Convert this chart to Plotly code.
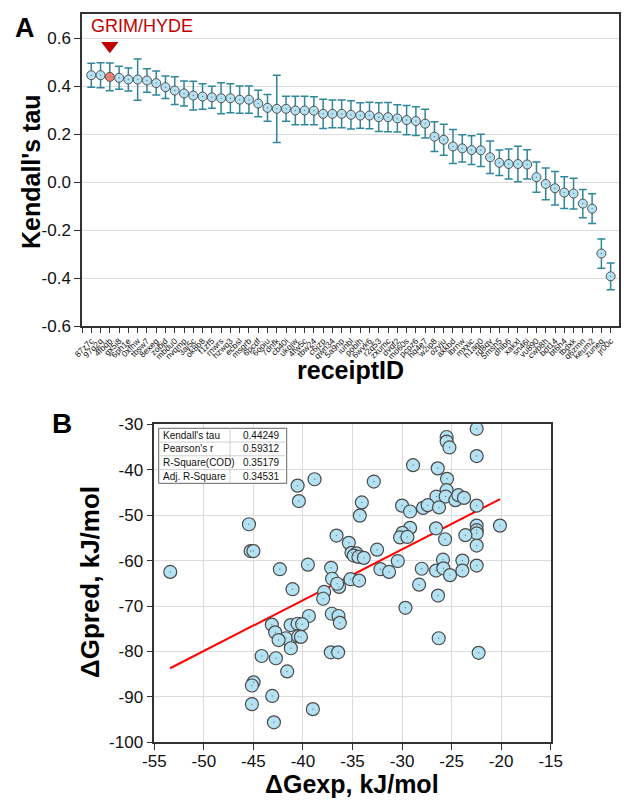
import plotly.graph_objects as go

# ---------------- Panel A data ----------------
receipt_ids = ["87z7c", "97q2q", "4fbqb", "gx5i8", "6ph1e", "0xfhw", "tbsw7", "8exeg", "zobjd", "mbdu0",
               "nvqmp", "3aj5c", "ok8b8", "f1zf5", "rnwrs", "hzwq3", "ecbsl", "msgrb", "6pcdf", "6ooiu",
               "7dnfk", "cb40i", "ukojw", "4fw5c", "tbw24", "c6jzp", "qwn34", "5a9np", "iunbl", "poblh",
               "6wvk6", "r2q53", "zxumc", "dvqf2", "mo60s", "pcpz6", "hq4e7", "w2ip8", "ozyju", "axkbd",
               "lbrnw", "mxxic", "h1ag0", "rq8qv", "5msh5", "dhlb6", "xakxl", "sn46i", "vu890", "cwb8h",
               "bdt14", "bt6h4", "tbdxk", "q6zmn", "keum2", "zuneq", "jr00c"]
kendall_tau = [0.445, 0.445, 0.438, 0.434, 0.427, 0.427, 0.423, 0.412, 0.395, 0.381,
               0.369, 0.360, 0.356, 0.353, 0.349, 0.349, 0.343, 0.343, 0.327, 0.309,
               0.305, 0.305, 0.298, 0.298, 0.297, 0.284, 0.284, 0.284, 0.280, 0.277,
               0.277, 0.270, 0.270, 0.265, 0.258, 0.254, 0.243, 0.189, 0.176, 0.148,
               0.140, 0.133, 0.132, 0.103, 0.080, 0.075, 0.075, 0.073, 0.020, -0.008,
               -0.026, -0.044, -0.048, -0.090, -0.111, -0.298, -0.393]
tau_err = [0.050, 0.052, 0.058, 0.048, 0.048, 0.086, 0.049, 0.050, 0.047, 0.058,
           0.052, 0.060, 0.053, 0.046, 0.065, 0.060, 0.057, 0.057, 0.055, 0.056,
           0.140, 0.052, 0.059, 0.059, 0.058, 0.061, 0.058, 0.058, 0.059, 0.053,
           0.055, 0.060, 0.061, 0.057, 0.061, 0.060, 0.060, 0.062, 0.065, 0.071,
           0.057, 0.060, 0.067, 0.068, 0.053, 0.062, 0.074, 0.061, 0.063, 0.066,
           0.070, 0.066, 0.064, 0.059, 0.062, 0.061, 0.056]
highlight_index = 3          # 1-based position of GRIM/HYDE
highlight_label = "GRIM/HYDE"
highlight_marker_y = 0.568
a_ytickvals = [-0.6, -0.4, -0.2, 0.0, 0.2, 0.4, 0.6]
a_yticktext = ["-0.6", "-0.4", "-0.2", "0.0", "0.2", "0.4", "0.6"]

# ---------------- Panel B data ----------------
dg_exp = [-53.39, -45.45, -45.28, -45.00, -42.33, -41.05, -40.54, -40.41, -39.50, -38.83,
          -37.86, -37.96, -37.16, -37.06, -36.35, -36.55, -39.40, -43.14, -41.25, -40.54,
          -40.08, -42.80, -41.73, -42.46, -40.48, -40.20, -44.17, -42.73, -41.22, -41.59,
          -44.98, -45.15, -43.10, -45.15, -39.00, -42.93, -37.09, -36.41, -36.28, -37.19,
          -36.45, -29.66, -26.37, -26.30, -22.27, -22.47, -25.50, -25.50, -25.22, -22.47,
          -28.89, -26.40, -25.46, -32.85, -25.50, -26.53, -25.60, -24.62, -24.32, -23.75,
          -34.06, -30.00, -29.19, -27.88, -27.41, -26.27, -22.47, -34.26, -20.12, -22.47,
          -22.47, -22.47, -26.57, -29.19, -29.96, -30.20, -29.46, -25.66, -23.61, -36.61,
          -22.47, -35.37, -32.52, -35.10, -34.60, -34.87, -34.40, -33.86, -35.20, -34.33,
          -32.18, -31.31, -30.43, -28.01, -28.28, -26.57, -25.87, -25.83, -25.16, -23.91,
          -23.91, -22.47]
dg_pred = [-62.5, -52.0, -57.9, -57.9, -61.9, -66.3, -43.5, -46.9, -60.9, -42.1,
           -66.9, -68.4, -61.6, -64.0, -65.8, -65.1, -72.2, -74.1, -74.2, -73.9,
           -74.0, -75.8, -77.1, -77.5, -76.7, -76.8, -81.0, -81.5, -79.3, -84.4,
           -86.8, -87.5, -89.8, -91.6, -92.7, -95.6, -71.7, -72.2, -73.7, -80.2,
           -80.2, -70.4, -67.7, -77.1, -80.3, -31.0, -32.8, -33.8, -35.1, -37.0,
           -39.0, -39.7, -42.0, -42.6, -44.5, -45.9, -45.9, -46.7, -45.6, -46.2,
           -47.2, -47.9, -49.2, -48.4, -47.8, -48.3, -47.9, -50.1, -52.3, -52.3,
           -53.3, -54.0, -52.9, -52.8, -53.9, -54.9, -54.8, -55.3, -54.4, -54.5,
           -56.7, -56.1, -57.6, -58.3, -58.4, -58.9, -59.2, -59.4, -64.1, -64.4,
           -61.9, -62.5, -60.1, -61.8, -65.3, -62.2, -59.8, -61.7, -63.2, -60.0,
           -62.2, -61.1]
fit_x = [-53.4, -20.1]
fit_y = [-83.7, -46.45]
stat_names = ["Kendall's tau", "Pearson's r", "R-Square(COD)", "Adj. R-Square"]
stat_values = ["0.44249", "0.59312", "0.35179", "0.34531"]
b_xtickvals = [-55, -50, -45, -40, -35, -30, -25, -20, -15]
b_xticktext = ["-55", "-50", "-45", "-40", "-35", "-30", "-25", "-20", "-15"]
b_ytickvals = [-100, -90, -80, -70, -60, -50, -40, -30]
b_yticktext = ["-100", "-90", "-80", "-70", "-60", "-50", "-40", "-30"]

# ---------------- helpers ----------------
W, H = 624, 800
FONT = "Arial, Liberation Sans, sans-serif"
def px(x):
    return x / W
def py(y):
    return 1 - y / H

x_pos = list(range(1, len(kendall_tau) + 1))
fill_colors = ["#f2806e" if i == highlight_index else "#b5e2f3" for i in x_pos]

fig = go.Figure()

# Panel A
fig.add_trace(go.Scatter(
    x=x_pos, y=kendall_tau, mode="markers", xaxis="x", yaxis="y",
    marker=dict(size=9, color=fill_colors, line=dict(color="#505050", width=1)),
    error_y=dict(type="data", array=tau_err, color="#2f879a", thickness=1.5, width=4),
    showlegend=False, hoverinfo="x+y"))
fig.add_trace(go.Scatter(
    x=x_pos, y=kendall_tau, mode="markers", xaxis="x", yaxis="y",
    marker=dict(size=1.5, color="#6a8898"), showlegend=False, hoverinfo="skip"))
fig.add_trace(go.Scatter(
    x=[highlight_index], y=[highlight_marker_y], mode="markers", xaxis="x", yaxis="y",
    marker=dict(symbol="triangle-down", size=15, color="#c00000"),
    showlegend=False, hoverinfo="skip"))

# Panel B
fig.add_trace(go.Scatter(
    x=fit_x, y=fit_y, mode="lines", xaxis="x2", yaxis="y2",
    line=dict(color="#ff0000", width=2), showlegend=False))
fig.add_trace(go.Scatter(
    x=dg_exp, y=dg_pred, mode="markers", xaxis="x2", yaxis="y2",
    marker=dict(size=13, color="#b5e2f3", line=dict(color="#4a4a4a", width=1.2)),
    showlegend=False))
fig.add_trace(go.Scatter(
    x=dg_exp, y=dg_pred, mode="markers", xaxis="x2", yaxis="y2",
    marker=dict(size=1.5, color="#6a8898"), showlegend=False, hoverinfo="skip"))

tick_font = dict(family=FONT, size=17, color="#111")
axis_common = dict(showline=True, linecolor="#333", linewidth=1.5, mirror=True,
                   ticks="outside", tickcolor="#333", zeroline=False, automargin=False)

fig.update_layout(
    width=W, height=H, autosize=False,
    margin=dict(l=0, r=0, t=0, b=0, pad=0),
    paper_bgcolor="white", plot_bgcolor="white",
    xaxis=dict(domain=[px(82), px(619)], range=[0, 57.9], anchor="y",
               tickmode="array", tickvals=[0] + x_pos, ticktext=[""] + receipt_ids,
               tickangle=-45, tickfont=dict(family=FONT, size=8.5, color="#111"),
               ticklen=5, tickwidth=1, showgrid=False, **axis_common),
    yaxis=dict(domain=[py(326), py(14)], range=[-0.6, 0.7], anchor="x",
               tickmode="array", tickvals=a_ytickvals, ticktext=a_yticktext,
               tickfont=tick_font, ticklen=6, tickwidth=1.2,
               showgrid=True, gridcolor="#dcdcdc", gridwidth=1, **axis_common),
    xaxis2=dict(domain=[px(154.3), px(550.7)], range=[-55, -15], anchor="y2",
                tickmode="array", tickvals=b_xtickvals, ticktext=b_xticktext,
                tickfont=tick_font, ticklen=6, tickwidth=1.2, ticklabelstandoff=-3,
                showgrid=True, gridcolor="#dcdcdc", gridwidth=1, **axis_common),
    yaxis2=dict(domain=[py(742.3), py(424.3)], range=[-100, -30], anchor="x2",
                tickmode="array", tickvals=b_ytickvals, ticktext=b_yticktext,
                tickfont=tick_font, ticklen=6, tickwidth=1.2,
                showgrid=True, gridcolor="#dcdcdc", gridwidth=1, **axis_common),
)

def ann(text, x, y, size, bold=True, color="#000", angle=0, xanchor="center", yanchor="middle"):
    t = "<b>%s</b>" % text if bold else text
    fig.add_annotation(text=t, x=px(x), y=py(y), xref="paper", yref="paper",
                       xanchor=xanchor, yanchor=yanchor, showarrow=False,
                       textangle=angle, font=dict(family=FONT, size=size, color=color))

ann("A", 25, 28, 27)
ann(highlight_label, 142, 26, 18, bold=False, color="#c00000")
ann("Kendall's tau", 31, 172, 25, angle=-90)
ann("receiptID", 350, 370, 25)
ann("B", 62, 423, 28)
ann("\u0394Gpred, kJ/mol", 90, 582, 26, angle=-90)
ann("\u0394Gexp, kJ/mol", 352, 800, 25, yanchor="bottom")

# statistics table in panel B
tx0, tx1, ty0, ty1, tcol = 158.7, 286.7, 428.3, 483.3, 230
row_h = (ty1 - ty0) / len(stat_names)
fig.add_shape(type="rect", xref="paper", yref="paper",
              x0=px(tx0), x1=px(tx1), y0=py(ty1), y1=py(ty0),
              fillcolor="white", line=dict(color="#666", width=1), layer="above")
for k in range(1, len(stat_names)):
    yy = ty0 + k * row_h
    fig.add_shape(type="line", xref="paper", yref="paper",
                  x0=px(tx0), x1=px(tx1), y0=py(yy), y1=py(yy),
                  line=dict(color="#cfcfcf", width=1), layer="above")
fig.add_shape(type="line", xref="paper", yref="paper",
              x0=px(tcol), x1=px(tcol), y0=py(ty1), y1=py(ty0),
              line=dict(color="#cfcfcf", width=1), layer="above")
for k, (name, val) in enumerate(zip(stat_names, stat_values)):
    yc = ty0 + (k + 0.5) * row_h
    ann(name, 161, yc, 10, bold=False, color="#111", xanchor="left")
    ann(val, 241, yc, 10, bold=False, color="#111", xanchor="left")

fig.write_html("out.html", config={"displayModeBar": False},
               post_script="document.body.style.margin='0px';document.body.style.overflow='hidden';")
